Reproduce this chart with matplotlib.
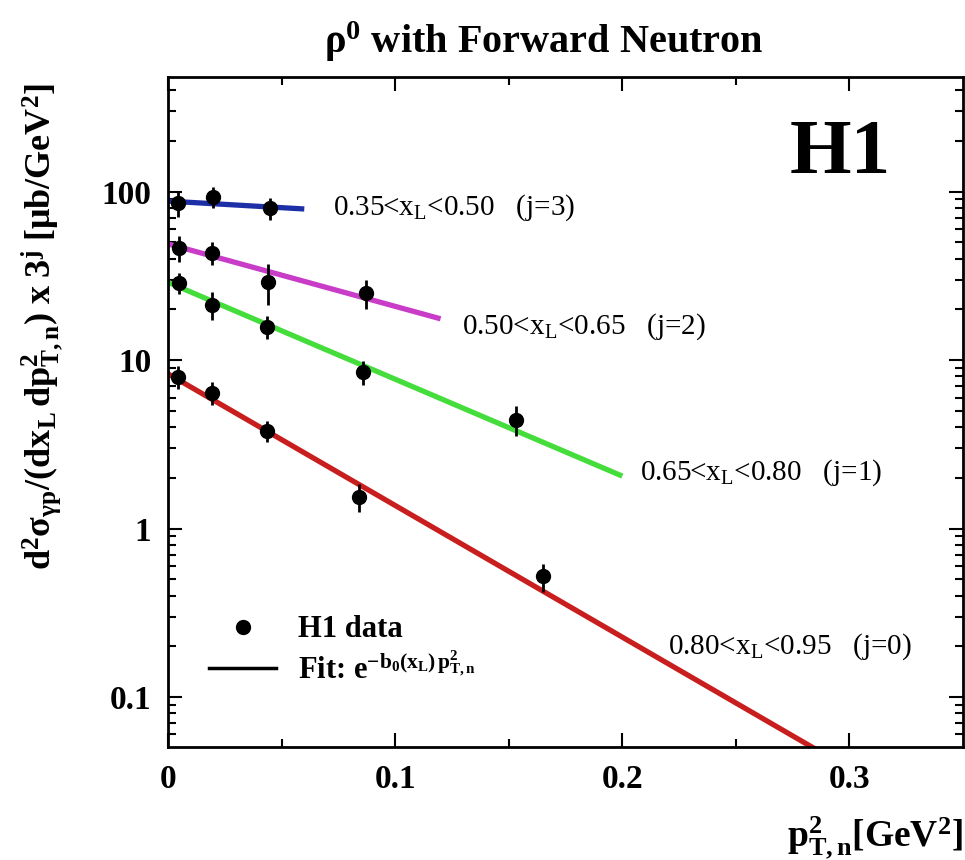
import numpy as np
import matplotlib
matplotlib.use("Agg")
import matplotlib.pyplot as plt
from matplotlib.lines import Line2D

plt.rcParams['font.family'] = ['Liberation Serif', 'DejaVu Serif']
plt.rcParams['mathtext.fontset'] = 'custom'
plt.rcParams['mathtext.rm'] = 'Liberation Serif'
plt.rcParams['mathtext.it'] = 'Liberation Serif:italic'
plt.rcParams['mathtext.bf'] = 'Liberation Serif:bold'

# ---- data points (pT^2, cross section x 3^j, error) ----
x_j3 = [0.0044, 0.020, 0.045]
y_j3 = [86, 93, 80]
e_j3 = [15, 13, 12]

x_j2 = [0.0048, 0.0195, 0.044, 0.087]
y_j2 = [46.5, 43.5, 29.3, 25.1]
e_j2 = [8, 7, 8, 5]

x_j1 = [0.0048, 0.0195, 0.0435, 0.086, 0.153]
y_j1 = [28.8, 21.3, 15.8, 8.55, 4.43]
e_j1 = [4, 4, 2.5, 1.4, 0.9]

x_j0 = [0.0044, 0.0195, 0.0435, 0.084, 0.165]
y_j0 = [7.98, 6.4, 3.82, 1.55, 0.52]
e_j0 = [1.2, 1.0, 0.55, 0.3, 0.1]

# ---- exponential fits: end points (x, y) of each straight line on log scale ----
fit_x = [[0, 0.06], [0, 0.12], [0, 0.20], [0, 0.30]]
fit_y = [[88, 79], [49, 17.6], [29, 2.05], [8.3, 0.0375]]
fit_colors = ['#1c2fa6', '#c83cc8', '#44dd3c', '#c81e1e']

labels = [r'0.35<x$_{\rm L}$<0.50   (j=3)',
          r'0.50<x$_{\rm L}$<0.65   (j=2)',
          r'0.65<x$_{\rm L}$<0.80   (j=1)',
          r'0.80<x$_{\rm L}$<0.95   (j=0)']
label_pos = [(0.0727, 80), (0.1295, 15.8), (0.208, 2.15), (0.220, 0.20)]

fig = plt.figure(figsize=(9.65, 8.6), dpi=100)
ax = fig.add_axes([168/965, 1-747/860, (963-168)/965, (747-77)/860])

for fx, fy, c in zip(fit_x, fit_y, fit_colors):
    ax.plot(fx, fy, color=c, lw=3.8, solid_capstyle='butt', zorder=2)

for xs, ys, es in [(x_j3, y_j3, e_j3), (x_j2, y_j2, e_j2),
                   (x_j1, y_j1, e_j1), (x_j0, y_j0, e_j0)]:
    ax.errorbar(xs, ys, yerr=es, fmt='o', color='black', ms=10,
                elinewidth=2, capsize=0, zorder=3)

for lab, (lx, ly) in zip(labels, label_pos):
    ax.text(lx, ly, lab, fontsize=21, va='center', ha='left')

ax.set_yscale('log')
ax.set_xlim(0, 0.35)
ax.set_ylim(0.0505, 480)
ax.set_xticks([0, 0.1, 0.2, 0.3])
ax.set_xticklabels(['0', '0.1', '0.2', '0.3'], fontweight='bold', fontsize=24)
ax.set_xticks(np.arange(0, 0.35, 0.05), minor=True)
ax.set_yticks([0.1, 1, 10, 100])
ax.set_yticklabels(['0.1', '1', '10', '100'], fontweight='bold', fontsize=24)
ax.tick_params(which='both', direction='in', top=True, right=True, width=1.5)
ax.tick_params(which='major', length=10, pad=12)
ax.tick_params(which='minor', length=6)
ax.xaxis.set_minor_formatter(plt.NullFormatter())
ax.yaxis.set_minor_formatter(plt.NullFormatter())
for s in ax.spines.values():
    s.set_linewidth(2)

ax.text(0.845, 0.885, 'H1', transform=ax.transAxes, fontsize=57,
        fontweight='bold', ha='center', va='center')

handles = [Line2D([], [], marker='o', color='black', ls='none', ms=10),
           Line2D([], [], color='black', lw=2.5)]
leg = ax.legend(handles, ['H1 data', r'Fit: $\mathbf{e^{-b_0(x_L)\,p^2_{T,n}}}$'],
                loc='lower left', bbox_to_anchor=(0.017, 0.05), frameon=False,
                prop={'weight': 'bold', 'size': 22}, handlelength=2.2,
                handletextpad=0.7, labelspacing=0.3)

fig.text(544/965, 1-42/860, r'$\mathbf{\rho^0}$ with Forward Neutron',
         fontsize=29, fontweight='bold', ha='center', va='center')
fig.text(42/965, 1-326/860,
         r'$\mathbf{d^2\sigma_{\gamma p}/(dx_L\,dp^2_{T,n})\ x\ 3^j\ [\mu b/GeV^2]}$',
         fontsize=26, rotation=90, ha='center', va='center')
fig.text(963/965, 1-838/860, r'$\mathbf{p^2_{T,n}[GeV^2]}$',
         fontsize=27, ha='right', va='center')

fig.savefig('out.png', dpi=100)
